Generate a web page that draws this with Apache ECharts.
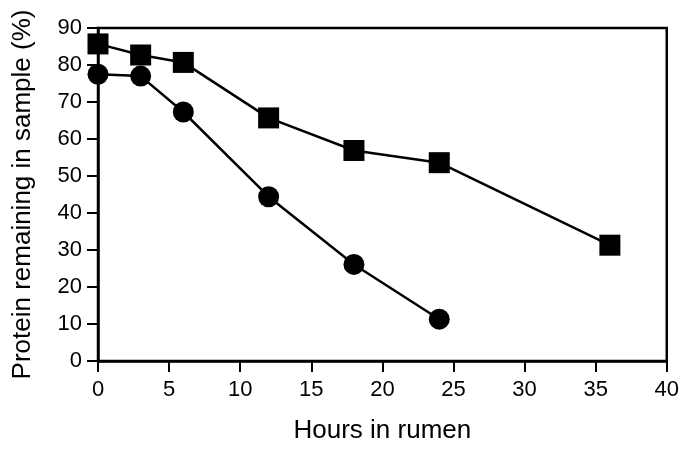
<!DOCTYPE html>
<html>
<head>
<meta charset="utf-8">
<script src="https://cdn.jsdelivr.net/npm/echarts@6/dist/echarts.min.js"></script>
<style>html,body{margin:0;padding:0;background:#fff;}#c{width:682px;height:449px;}</style>
</head>
<body>
<div id="c"></div>
<script>
const xTitle = 'Hours in rumen';
const yTitle = 'Protein remaining in sample (%)';
const squareHours = [0, 3, 6, 12, 18, 24, 36];
const squareValues = [85.7, 82.7, 80.7, 65.7, 56.9, 53.6, 31.3];
const circleHours = [0, 3, 6, 12, 18, 24];
const circleValues = [77.5, 77, 67.3, 44.4, 26.1, 11.3];

const chart = echarts.init(document.getElementById('c'));
const font = 'Liberation Sans';
chart.setOption({
  animation: false,
  backgroundColor: '#fff',
  grid: {left: 98, right: 14, top: 28, bottom: 87, show: true, borderColor: '#000', borderWidth: 2.5, backgroundColor: 'transparent'},
  xAxis: {
    type: 'value', min: 0, max: 40, interval: 5,
    name: xTitle, nameLocation: 'middle', nameGap: 57,
    nameTextStyle: {fontFamily: font, fontSize: 26, color: '#000'},
    axisLine: {show: true, onZero: false, lineStyle: {color: '#000', width: 2.5}},
    axisTick: {show: true, inside: false, length: 11, lineStyle: {color: '#000', width: 2}},
    axisLabel: {fontFamily: font, fontSize: 22, color: '#000', margin: 18},
    splitLine: {show: false}
  },
  yAxis: {
    type: 'value', min: 0, max: 90, interval: 10,
    name: yTitle, nameLocation: 'middle', nameGap: 62,
    nameTextStyle: {fontFamily: font, fontSize: 26, color: '#000'},
    axisLine: {show: true, onZero: false, lineStyle: {color: '#000', width: 2.5}},
    axisTick: {show: true, inside: false, length: 11, lineStyle: {color: '#000', width: 2}},
    axisLabel: {fontFamily: font, fontSize: 22, color: '#000', margin: 16},
    splitLine: {show: false}
  },
  series: [
    {
      type: 'line', data: squareHours.map((h, i) => [h, squareValues[i]]),
      symbol: 'rect', symbolSize: 21,
      lineStyle: {color: '#000', width: 2.5},
      itemStyle: {color: '#000'}
    },
    {
      type: 'line', data: circleHours.map((h, i) => [h, circleValues[i]]),
      symbol: 'circle', symbolSize: 21,
      lineStyle: {color: '#000', width: 2.5},
      itemStyle: {color: '#000'}
    }
  ]
});
</script>
</body>
</html>
